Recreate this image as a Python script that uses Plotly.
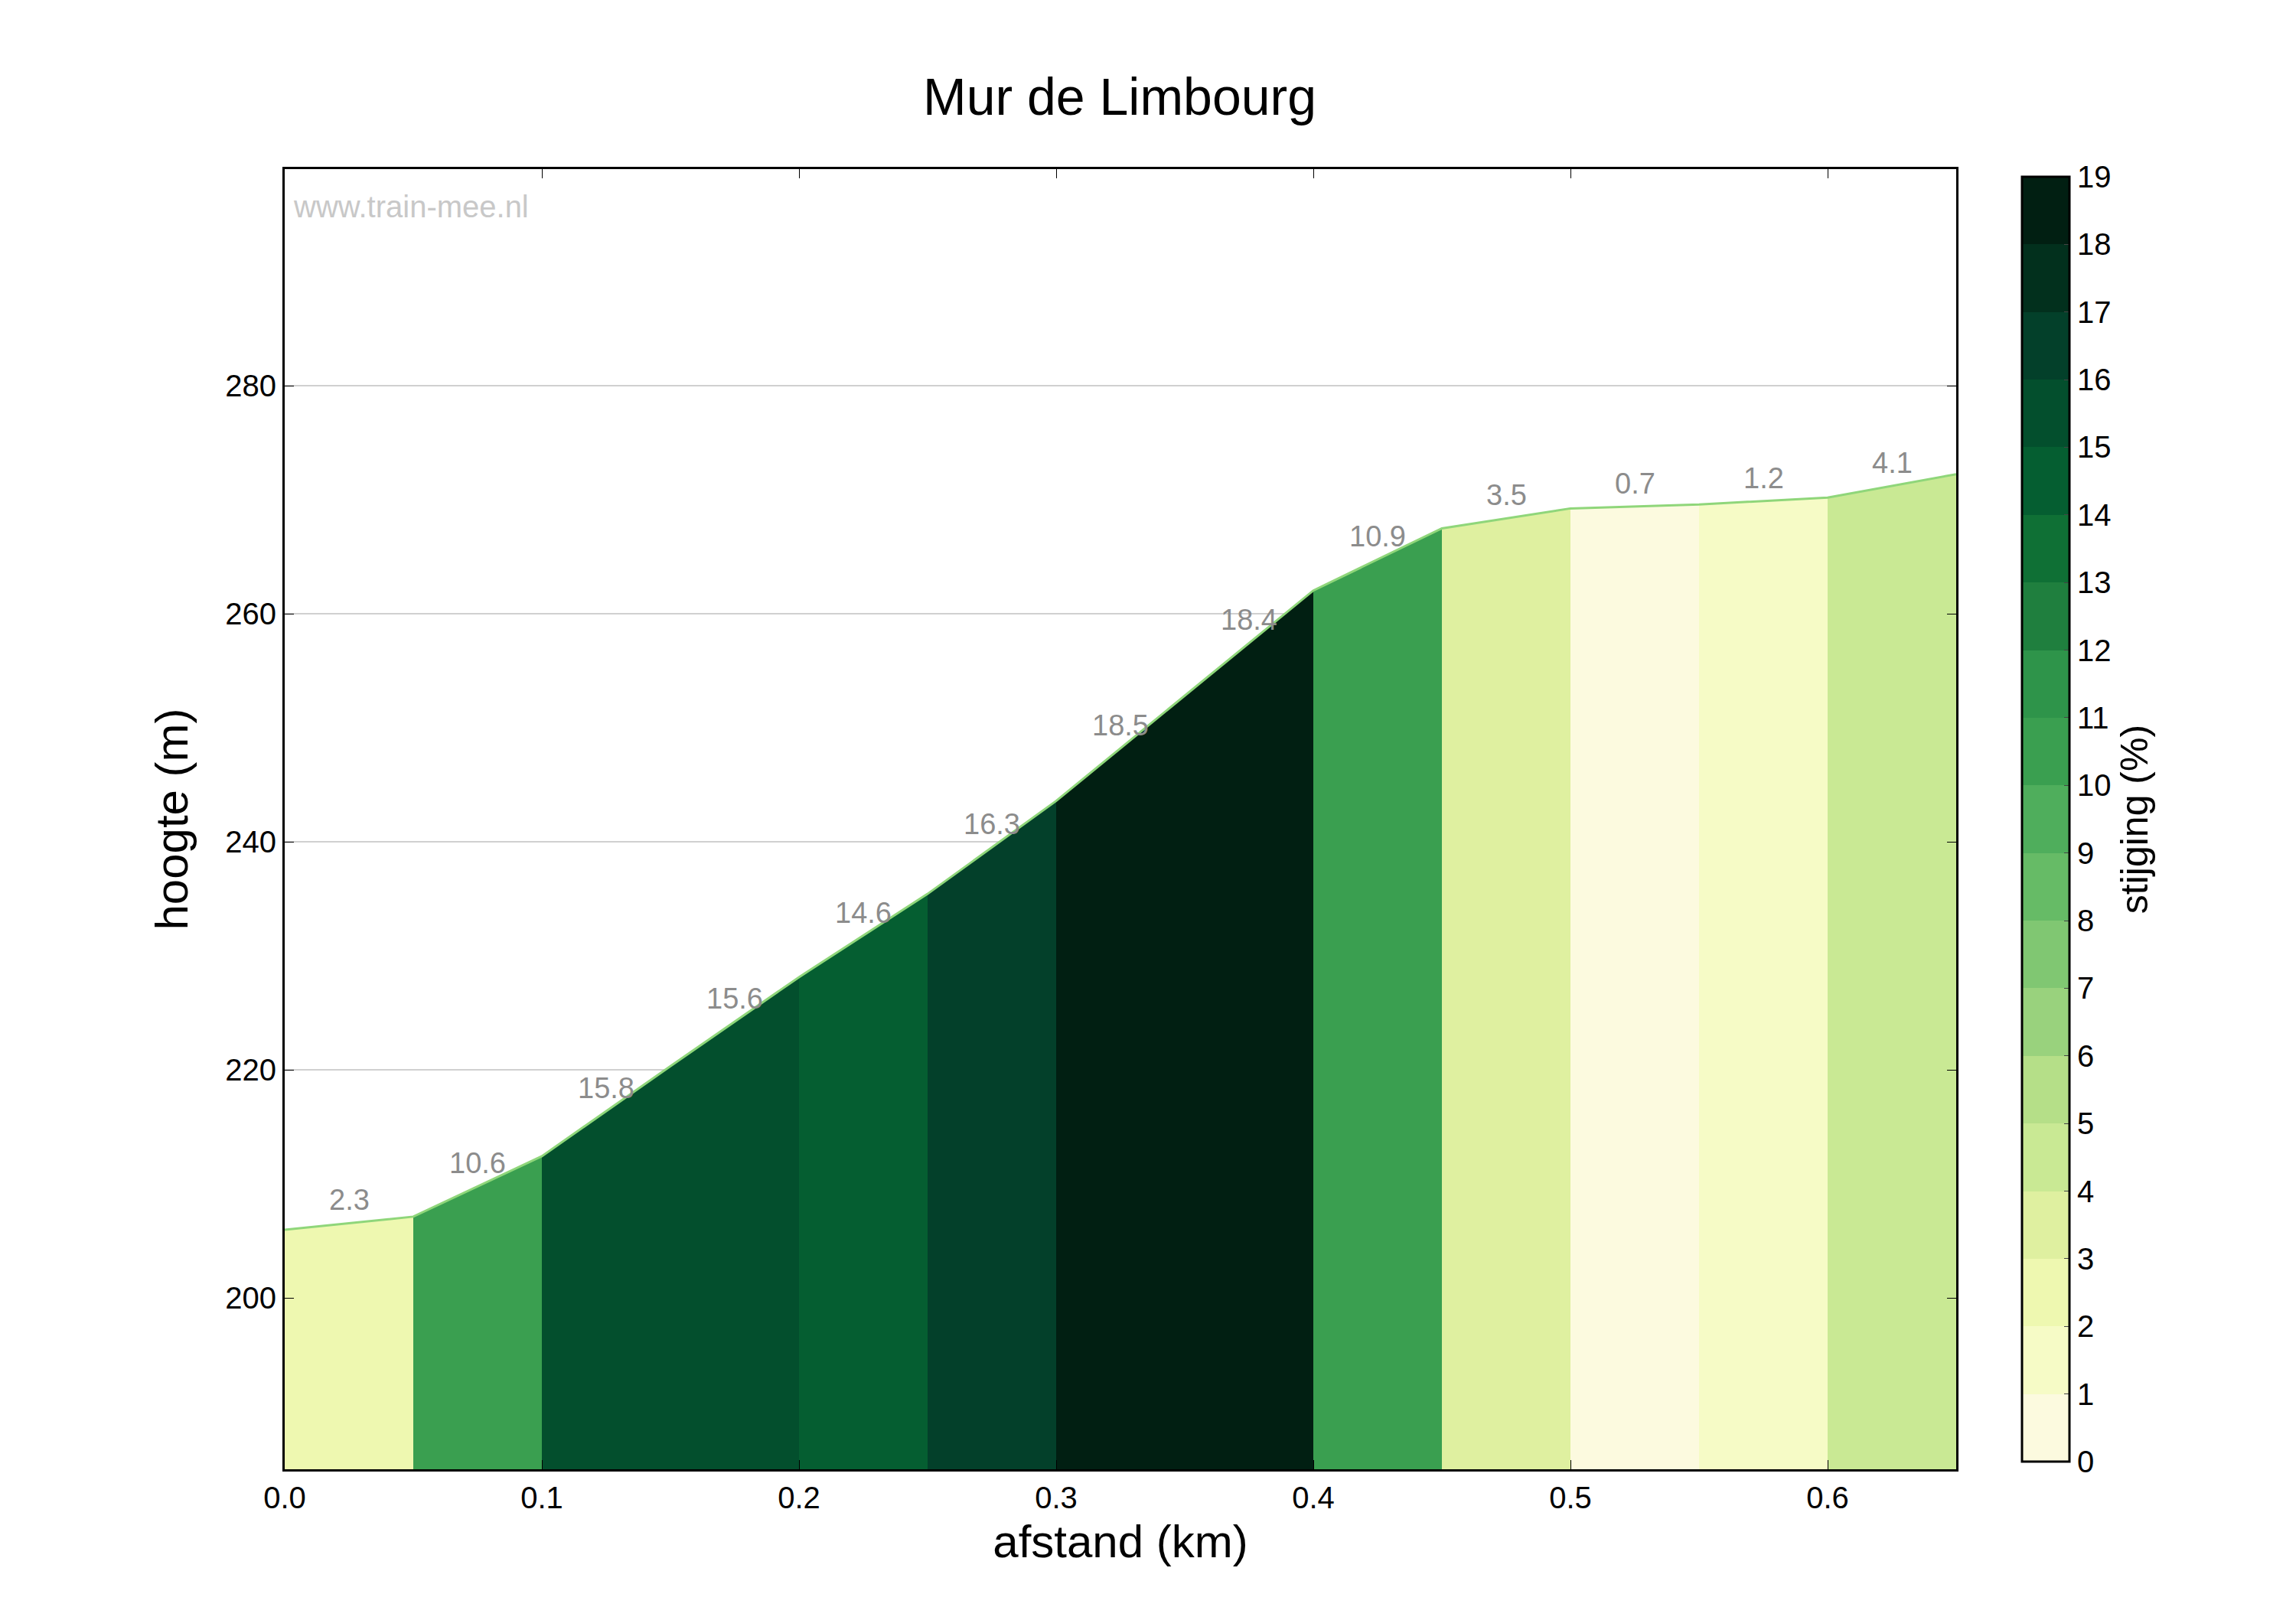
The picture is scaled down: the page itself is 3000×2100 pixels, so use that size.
import plotly.graph_objects as go

# segment boundaries (km), heights (m) and gradient per segment (%)
afstand = [0.0, 0.05, 0.1, 0.15, 0.2, 0.25, 0.3, 0.35, 0.4, 0.45, 0.5, 0.55, 0.6, 0.65]
hoogte = [206.0, 207.15, 212.45, 220.35, 228.15, 235.45, 243.6, 252.85, 262.05,
          267.5, 269.25, 269.6, 270.2, 272.25]
stijging = [2.3, 10.6, 15.8, 15.6, 14.6, 16.3, 18.5, 18.4, 10.9, 3.5, 0.7, 1.2, 4.1]

# 19 discrete colour bands, 0-1 % ... 18-19 %
band_colors = ["#fcfadf", "#f6fbc6", "#eef8b0", "#dff0a0", "#c9e994", "#b5df88",
               "#99d27d", "#80c772", "#66bb66", "#4fae5c", "#3a9f50", "#2e944a",
               "#1f7f3e", "#0f7035", "#055e31", "#034f2d", "#03402a", "#02301d",
               "#011f12"]

Y0 = 185

def color_for(g):
    return band_colors[min(int(g), len(band_colors) - 1)]

fig = go.Figure()
for i, g in enumerate(stijging):
    x0, x1 = afstand[i], afstand[i + 1]
    y0, y1 = hoogte[i], hoogte[i + 1]
    fig.add_trace(go.Scatter(
        x=[x0, x0, x1, x1, x0], y=[Y0, y0, y1, Y0, Y0],
        fill="toself", fillcolor=color_for(g), mode="lines",
        line=dict(width=0), hoverinfo="skip", showlegend=False))
    fig.add_annotation(x=(x0 + x1) / 2, y=(y0 + y1) / 2, text=f"{g}",
                       yshift=30, showarrow=False,
                       font=dict(size=38, color="#8c8c8c"))

# profile outline
fig.add_trace(go.Scatter(x=afstand, y=hoogte, mode="lines",
                         line=dict(color="#8fd67a", width=3),
                         hoverinfo="skip", showlegend=False))

# colorbar via dummy marker
n = len(band_colors)
cscale = []
for k, c in enumerate(band_colors):
    cscale.append([k / n, c])
    cscale.append([(k + 1) / n, c])
fig.add_trace(go.Scatter(
    x=[None], y=[None], mode="markers", showlegend=False,
    marker=dict(color=[0], cmin=0, cmax=19, colorscale=cscale, showscale=True,
                colorbar=dict(
                    tickvals=list(range(20)), ticks="inside", ticklen=8,
                    tickfont=dict(size=40, color="black"),
                    thickness=62, len=1.0, lenmode="fraction", y=0.5,
                    yanchor="middle", x=1.035, xanchor="left",
                    outlinewidth=3, outlinecolor="black",
                    title=dict(text="stijging (%)", side="right",
                               font=dict(size=50, color="black"))))))

fig.add_annotation(xref="paper", yref="paper", x=0.004, y=0.985,
                   xanchor="left", yanchor="top", showarrow=False,
                   text="www.train-mee.nl",
                   font=dict(size=40, color="#c8c8c8"))

axis_common = dict(showline=True, linecolor="black", linewidth=3, mirror="ticks",
                   ticks="inside", ticklen=12, tickcolor="black",
                   tickfont=dict(size=40, color="black"), zeroline=False)

fig.update_layout(
    width=3000, height=2100,
    paper_bgcolor="white", plot_bgcolor="white",
    font=dict(family="Liberation Sans, Arial, sans-serif", color="black"),
    margin=dict(l=364, r=452, t=213, b=188),
    title=dict(text="Mur de Limbourg", x=0.485, xanchor="center", y=0.955,
               font=dict(size=68, color="black")),
    xaxis=dict(range=[0, 0.65], dtick=0.1, tickformat=".1f", showgrid=False,
               title=dict(text="afstand (km)", font=dict(size=60)), **axis_common),
    yaxis=dict(range=[185, 299], tickvals=[200, 220, 240, 260, 280],
               showgrid=True, gridcolor="#d0d0d0", gridwidth=2,
               title=dict(text="hoogte (m)", font=dict(size=60), standoff=30),
               **axis_common),
)

fig.write_html("out.html")
